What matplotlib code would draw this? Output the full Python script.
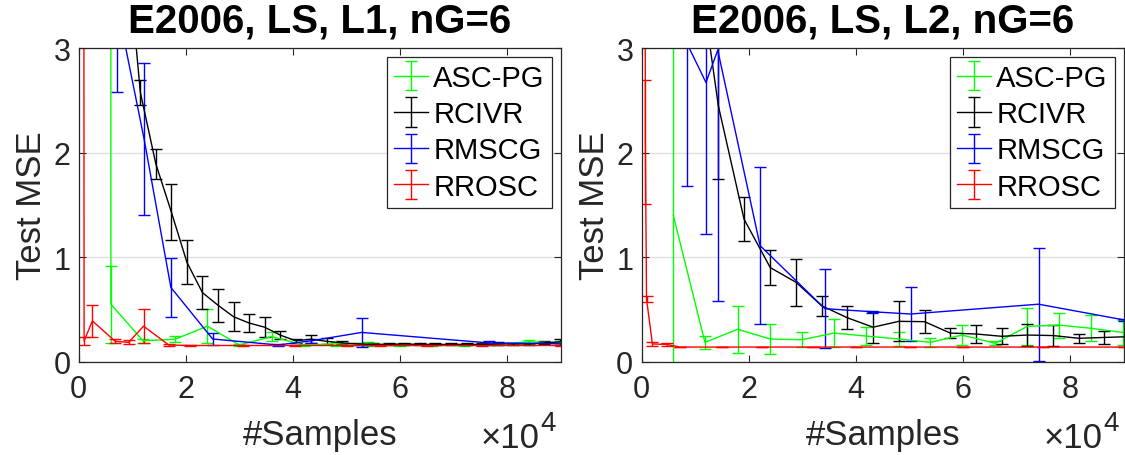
import matplotlib
matplotlib.use('Agg')
import matplotlib.pyplot as plt

plt.rcParams['font.family'] = ['Liberation Sans', 'DejaVu Sans']

# x values in units of 1e4 samples
# ---- left panel: L1 ----
asc_x_l = [0.59, 0.6, 1.2, 1.8, 2.4, 3.0, 3.6, 4.2, 4.8, 5.4, 6.0, 6.6, 7.2, 7.8, 8.4, 9.0]
asc_y_l = [40, 0.55, 0.2, 0.215, 0.34, 0.16, 0.24, 0.16, 0.17, 0.17, 0.16, 0.16, 0.16, 0.17, 0.19, 0.18]
asc_e_l = [0, 0.37, 0.02, 0.03, 0.16, 0.01, 0.04, 0.01, 0.02, 0.02, 0.01, 0.01, 0.01, 0.01, 0.02, 0.02]

rcivr_x_l = [0.57, 0.86, 1.15, 1.44, 1.73, 2.02, 2.31, 2.60, 2.89, 3.18, 3.47, 3.76, 4.05, 4.34, 4.63,
             4.92, 5.21, 5.50, 5.79, 6.08, 6.37, 6.66, 6.95, 7.24, 7.53, 7.82, 8.11, 8.40, 8.69, 8.98]
rcivr_y_l = [7.0, 4.2, 2.575, 1.89, 1.43, 0.95, 0.66, 0.54, 0.43, 0.37, 0.33, 0.255, 0.20, 0.215, 0.195,
             0.18, 0.17, 0.165, 0.165, 0.17, 0.165, 0.165, 0.165, 0.165, 0.165, 0.17, 0.17, 0.17, 0.18, 0.19]
rcivr_e_l = [0.5, 0.3, 0.12, 0.147, 0.27, 0.21, 0.16, 0.16, 0.14, 0.09, 0.094, 0.04, 0.02, 0.04, 0.03,
             0.015, 0.01, 0.01, 0.01, 0.01, 0.01, 0.01, 0.01, 0.01, 0.01, 0.015, 0.01, 0.01, 0.015, 0.03]

rmscg_x_l = [0.72, 1.22, 1.72, 2.5, 3.72, 4.34, 5.28, 7.65, 9.2]
rmscg_y_l = [3.4, 2.13, 0.71, 0.217, 0.16, 0.2, 0.28, 0.18, 0.17]
rmscg_e_l = [0.82, 0.73, 0.28, 0.06, 0.01, 0.02, 0.135, 0.02, 0.01]

rrosc_x_l = [0.05, 0.10, 0.255, 0.68, 0.93, 1.21, 1.68, 2.08, 3.07, 4.04, 5.0, 5.63, 6.5, 7.53, 9.0]
rrosc_y_l = [40, 0.2, 0.39, 0.195, 0.185, 0.34, 0.16, 0.155, 0.155, 0.155, 0.155, 0.155, 0.155, 0.155, 0.155]
rrosc_e_l = [0, 0.04, 0.15, 0.02, 0.02, 0.16, 0.01, 0.005, 0.005, 0.005, 0.005, 0.005, 0.005, 0.005, 0.005]

# ---- right panel: L2 ----
asc_x_r = [0.59, 1.18, 1.79, 2.4, 2.99, 3.59, 4.19, 4.8, 5.39, 5.98, 6.6, 7.2, 7.79, 8.38, 8.98]
asc_y_r = [1.4, 0.185, 0.31, 0.217, 0.21, 0.274, 0.245, 0.217, 0.185, 0.255, 0.176, 0.338, 0.35, 0.32, 0.28]
asc_e_r = [4.0, 0.06, 0.226, 0.14, 0.07, 0.135, 0.09, 0.07, 0.04, 0.095, 0.02, 0.18, 0.12, 0.126, 0.118]

rcivr_x_r = [0.95, 1.43, 1.91, 2.4, 2.88, 3.36, 3.84, 4.32, 4.8, 5.28, 5.76, 6.24, 6.72, 7.2, 7.68,
             8.16, 8.64, 9.12]
rcivr_y_r = [4.2, 2.45, 1.364, 0.9, 0.76, 0.535, 0.42, 0.33, 0.386, 0.383, 0.274, 0.265, 0.243, 0.255,
             0.25, 0.224, 0.232, 0.24]
rcivr_e_r = [0.8, 0.7, 0.21, 0.17, 0.226, 0.097, 0.11, 0.15, 0.19, 0.11, 0.045, 0.09, 0.076, 0.107,
             0.1, 0.045, 0.06, 0.06]

rmscg_x_r = [0.84, 1.2, 1.42, 2.21, 3.42, 4.3, 5.02, 7.41, 9.0]
rmscg_y_r = [3.05, 2.67, 2.98, 1.11, 0.507, 0.478, 0.456, 0.55, 0.40]
rmscg_e_r = [1.37, 1.45, 2.4, 0.75, 0.38, 0.01, 0.258, 0.54, 0.01]

rrosc_x_r = [0.02, 0.068, 0.09, 0.2, 0.47, 0.72, 1.5, 2.24, 3.2, 4.0, 5.0, 6.0, 7.5, 9.0]
rrosc_y_r = [30, 2.1, 0.6, 0.17, 0.165, 0.14, 0.14, 0.14, 0.14, 0.14, 0.14, 0.14, 0.14, 0.14]
rrosc_e_r = [0, 0.59, 0.03, 0.02, 0.015, 0.004, 0.004, 0.004, 0.004, 0.004, 0.004, 0.004, 0.004, 0.004]

names = ['ASC-PG', 'RCIVR', 'RMSCG', 'RROSC']
colors = ['#00ff00', 'black', 'blue', 'red']

panels = [
    ('E2006, LS, L1, nG=6',
     [(asc_x_l, asc_y_l, asc_e_l), (rcivr_x_l, rcivr_y_l, rcivr_e_l),
      (rmscg_x_l, rmscg_y_l, rmscg_e_l), (rrosc_x_l, rrosc_y_l, rrosc_e_l)]),
    ('E2006, LS, L2, nG=6',
     [(asc_x_r, asc_y_r, asc_e_r), (rcivr_x_r, rcivr_y_r, rcivr_e_r),
      (rmscg_x_r, rmscg_y_r, rmscg_e_r), (rrosc_x_r, rrosc_y_r, rrosc_e_r)]),
]

fig = plt.figure(figsize=(11.25, 4.56), dpi=100)
lefts = [0.070, 0.5704]
width = 0.4285
bottom, top = 0.2046, 0.8925
gray = '#262626'

for (title, series), left in zip(panels, lefts):
    ax = fig.add_axes([left, bottom, width, top - bottom])
    for (x, y, e), name, c in zip(series, names, colors):
        ax.errorbar(x, y, yerr=e, color=c, ecolor=c, lw=1.0, elinewidth=1.0,
                    capsize=4, capthick=1.0, label=name)
    ax.set_xlim(0, 9)
    ax.set_ylim(0, 3)
    ax.set_xticks([0, 2, 4, 6, 8])
    ax.set_yticks([0, 1, 2, 3])
    ax.yaxis.grid(True, color='#e0e0e0', lw=1.0)
    ax.set_axisbelow(True)
    ax.tick_params(direction='in', length=5, width=0.8, top=True, right=True,
                   labelsize=22, colors=gray)
    ax.tick_params(axis='x', pad=9)
    ax.tick_params(axis='y', pad=6)
    for s in ax.spines.values():
        s.set_color(gray)
        s.set_linewidth(0.9)
    ax.set_title(title, fontsize=29, fontweight='bold', pad=12)
    ax.set_xlabel('#Samples', fontsize=25, color=gray, labelpad=10)
    ax.set_ylabel('Test MSE', fontsize=25, color=gray, labelpad=4)
    # x10^4 multiplier, bottom right
    ax.annotate('\u00d710', xy=(0.957, 1), xycoords=('axes fraction', 'figure pixels'),
                ha='right', va='bottom', fontsize=25, color=gray)
    ax.annotate('4', xy=(0.958, 19), xycoords=('axes fraction', 'figure pixels'),
                ha='left', va='bottom', fontsize=20, color=gray)
    leg = ax.legend(loc='upper right', fontsize=21, handlelength=1.15, handletextpad=0.2,
                    labelspacing=0.28, borderpad=0.25, borderaxespad=0.3, fancybox=False,
                    framealpha=1)
    leg.get_frame().set_edgecolor(gray)
    leg.get_frame().set_linewidth(0.9)

fig.savefig('out.png', dpi=100)
